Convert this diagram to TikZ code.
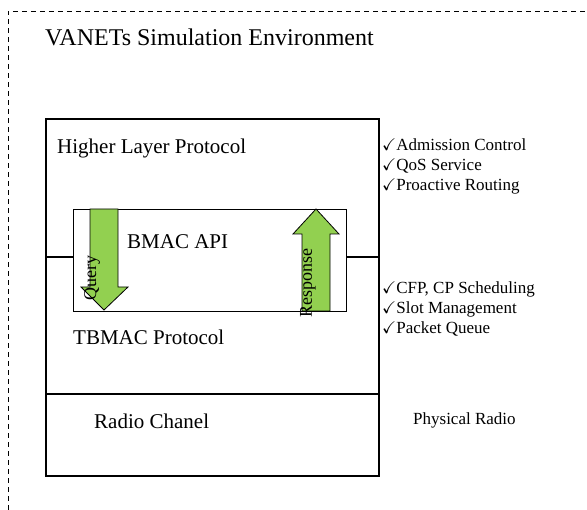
\documentclass[tikz,border=0pt]{standalone}
\usepackage{amssymb}
\usepackage{fontspec}
\setmainfont{Liberation Serif}
\usetikzlibrary{positioning,calc}
\definecolor{apigreen}{RGB}{146,208,80}
\tikzset{
  layerbox/.style={draw, line width=1.6pt, inner sep=0pt, anchor=north west},
  apibox/.style={draw, line width=1.2pt, inner sep=0pt, anchor=north west},
  bigarrow/.style={draw, fill=apigreen, line width=0.8pt, line join=miter},
  titletext/.style={font=\fontsize{24}{28}\selectfont, inner sep=0pt, anchor=base west},
  layertext/.style={font=\fontsize{21}{25}\selectfont, inner sep=0pt, anchor=base west},
  sidetext/.style={font=\fontsize{17}{20}\selectfont, inner sep=0pt, anchor=base west},
  arrowtext/.style={font=\fontsize{18}{21}\selectfont, inner sep=0pt, rotate=90},
}

\begin{document}
\begin{tikzpicture}[x=1pt, y=-1pt]
  \useasboundingbox (0,0) rectangle (587,510);

  % simulation environment frame
  \draw[dashed, dash pattern=on 5pt off 4pt, line width=0.8pt] (8,510) -- (8,11) -- (587,11);
  \node[titletext] (env) at (45,46) {VANETs Simulation Environment};

  % protocol stack
  \node[layerbox, minimum width=333pt, minimum height=357pt] (stack) at (45,118) {};
  \coordinate (radiotop) at (45,394);
  \draw[line width=1.6pt] (radiotop) -- (radiotop -| stack.east);

  \node[apibox, minimum width=273pt, minimum height=102pt] (api) at (73,209) {};
  \coordinate (apilink) at (0,257);
  \draw[line width=1.2pt] (stack.west |- apilink) -- (api.west |- apilink);
  \draw[line width=1.2pt] (api.east |- apilink) -- (stack.east |- apilink);

  % query / response arrows
  \draw[bigarrow] (90,209) -- (118,209) -- (118,287) -- (128,287) -- (104,310)
    -- (81,287) -- (90,287) -- cycle;
  \draw[bigarrow] (302,311) -- (330,311) -- (330,234) -- (339,234) -- (316,209)
    -- (293,234) -- (302,234) -- cycle;
  \node[arrowtext] (query) at (92,278) {Query};
  \node[arrowtext] (response) at (308,283) {Response};

  % layer names
  \node[layertext] (hlp) at (57,154) {Higher Layer Protocol};
  \node[layertext] (bmac) at (127,249) {BMAC API};
  \node[layertext] (tbmac) at (73,345) {TBMAC Protocol};
  \node[layertext] (radio) at (94,429) {Radio Chanel};

  % functions of each layer
  \foreach \txt [count=\i] in {Admission Control, QoS Service, Proactive Routing}
    \node[sidetext] (hlpf\i) at (382,131+20*\i) {$\checkmark$\txt};
  \foreach \txt [count=\i] in {{CFP, CP Scheduling}, Slot Management, Packet Queue}
    \node[sidetext] (macf\i) at (382,274+20*\i) {$\checkmark$\txt};
  \node[sidetext] (phy) at (413,425) {Physical Radio};
\end{tikzpicture}
\end{document}
